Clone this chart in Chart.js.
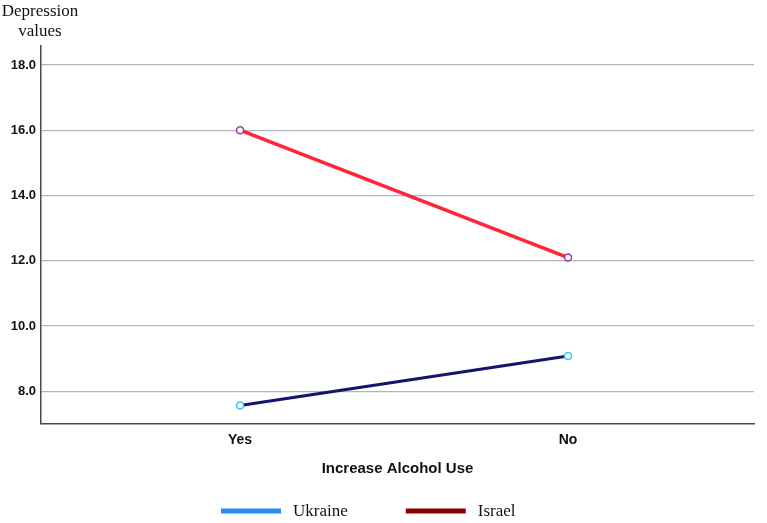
<!DOCTYPE html>
<html>
<head>
<meta charset="utf-8">
<script src="https://cdn.jsdelivr.net/npm/chart.js@4/dist/chart.umd.min.js"></script>
<style>
  html, body { margin: 0; padding: 0; background: #fff; }
  #wrap { width: 767px; height: 523px; }
</style>
</head>
<body>
<div id="wrap"><canvas id="chart"></canvas></div>
<script>
const categories = ["Yes", "No"]
const ukraine = [7.57, 9.08]
const israel = [16.0, 12.1]
const yTicks = [8, 10, 12, 14, 16, 18]

const serif = '"Liberation Serif", "Times New Roman", serif'
const sans = '"Liberation Sans", Arial, sans-serif'

// label "Depression values" above the y axis, as in the original
const yTitle = {
  id: 'yTitle',
  afterDraw(chart) {
    const ctx = chart.ctx
    const x = chart.chartArea.left - 1
    ctx.save()
    ctx.font = '17px ' + serif
    ctx.fillStyle = '#111'
    ctx.textAlign = 'center'
    ctx.fillText('Depression', x, 16)
    ctx.fillText('values', x, 36)
    ctx.restore()
  }
}

// legend with wide gaps between items (built-in one ties gap to vertical padding)
const wideLegend = {
  id: 'wideLegend',
  afterDraw(chart) {
    const ctx = chart.ctx
    let x = chart.chartArea.left + 180
    const y = chart.height - 12
    ctx.save()
    ctx.font = '17px ' + serif
    ctx.textBaseline = 'middle'
    chart.data.datasets.forEach(ds => {
      ctx.fillStyle = ds.legendColor
      ctx.fillRect(x, y - 2.5, 60, 5)
      x += 72
      ctx.fillStyle = '#111'
      ctx.fillText(ds.label, x, y + 1)
      x += ctx.measureText(ds.label).width + 58
    })
    ctx.restore()
  }
}

const toPoints = vals => vals.map((v, i) => ({x: i + 1, y: v}))

new Chart(document.getElementById("chart"), {
  type: 'line',
  data: {
    datasets: [
      {
        label: "Ukraine",
        data: toPoints(ukraine),
        borderColor: '#14146e',
        borderWidth: 3,
        pointRadius: 3.5,
        pointBorderWidth: 1.5,
        pointBorderColor: '#3cc4f0',
        pointBackgroundColor: '#ffffff',
        legendColor: '#2b8af5'
      },
      {
        label: "Israel",
        data: toPoints(israel),
        borderColor: '#ff2436',
        borderWidth: 3.5,
        pointRadius: 3.5,
        pointBorderWidth: 1.5,
        pointBorderColor: '#9b3aa0',
        pointBackgroundColor: '#ffffff',
        legendColor: '#8e0000'
      }
    ]
  },
  options: {
    responsive: true,
    maintainAspectRatio: false,
    animation: false,
    layout: { padding: { top: 46, right: 13, left: 0, bottom: 41 } },
    plugins: {
      tooltip: { enabled: false },
      legend: { display: false }
    },
    scales: {
      x: {
        type: 'linear',
        min: 0.393,
        max: 2.567,
        afterBuildTicks(scale) {
          scale.ticks = categories.map((c, i) => ({value: i + 1}))
        },
        afterFit(scale) { scale.height = 58 },
        ticks: {
          callback: v => categories[v - 1],
          color: '#111',
          font: { family: sans, size: 14, weight: 'bold' },
          padding: 8
        },
        grid: { display: false, drawTicks: false },
        border: { color: '#4a4a4a', width: 1.5 },
        title: {
          display: true,
          text: 'Increase Alcohol Use',
          color: '#111',
          font: { family: sans, size: 15, weight: 'bold' },
          padding: { top: 12 }
        }
      },
      y: {
        min: 7,
        max: 18.58,
        afterBuildTicks(scale) {
          scale.ticks = yTicks.map(v => ({value: v}))
        },
        afterFit(scale) { scale.width = 41 },
        ticks: {
          callback: v => v.toFixed(1),
          color: '#111',
          font: { family: sans, size: 13, weight: 'bold' },
          padding: 5
        },
        grid: { color: '#adb7b7', lineWidth: 1.2, drawTicks: false },
        border: { color: '#4a4a4a', width: 1.5 }
      }
    }
  },
  plugins: [yTitle, wideLegend]
})
</script>
</body>
</html>
